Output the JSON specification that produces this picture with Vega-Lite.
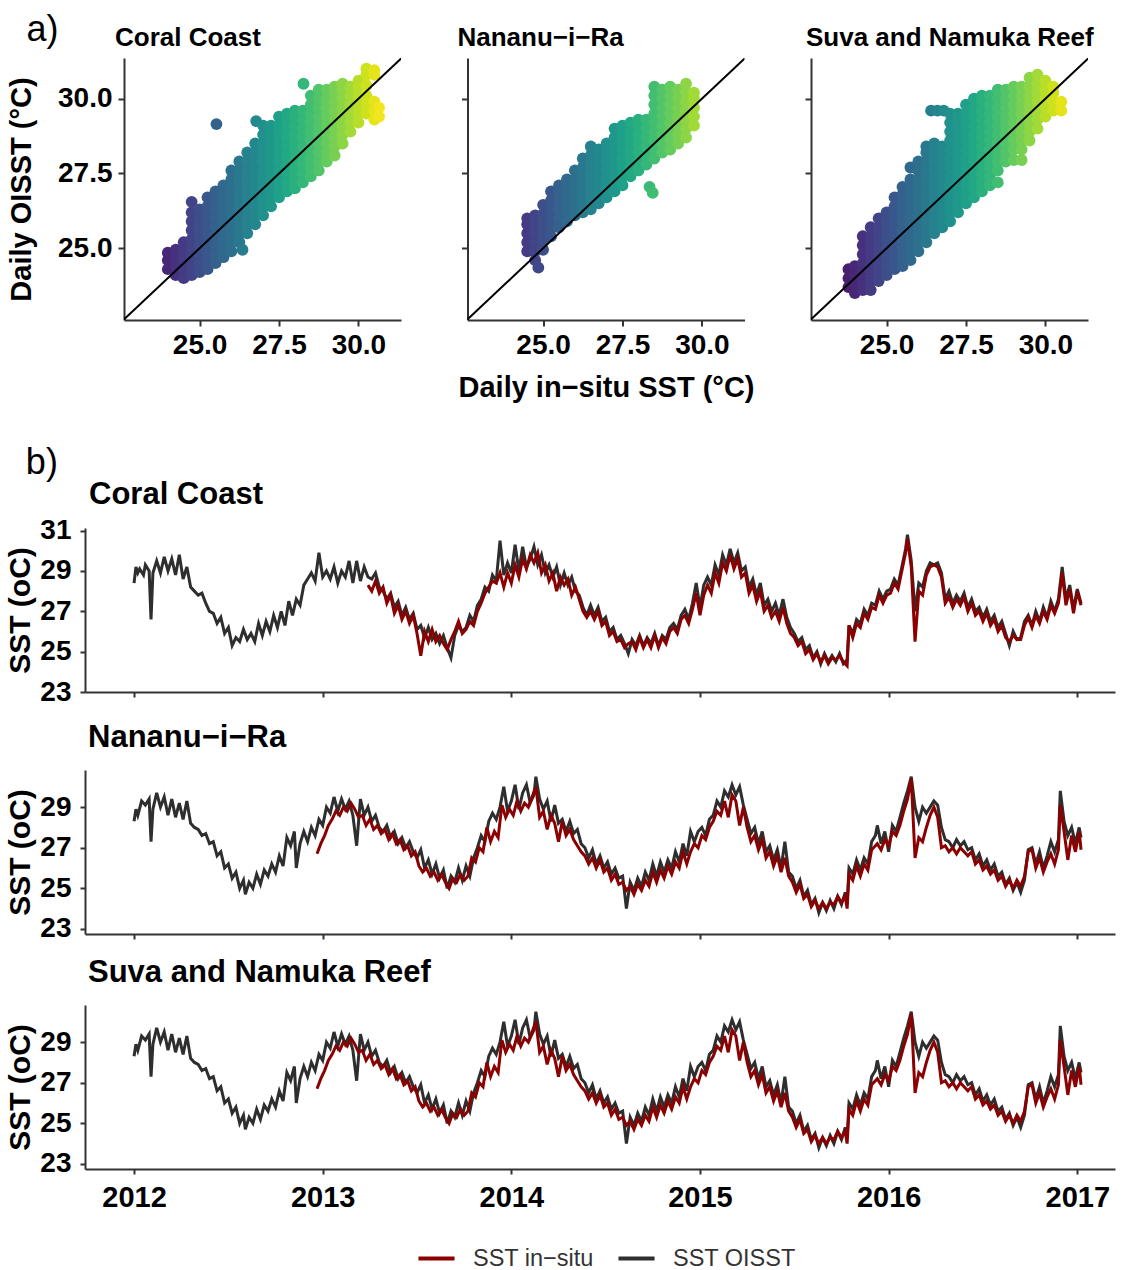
{
"$schema": "https://vega.github.io/schema/vega-lite/v6.json",
"padding": {"left": 5, "top": 12, "right": 10, "bottom": 5},
"background": "white",
"config": {
  "font": "Liberation Sans",
  "view": {"stroke": null},
  "axis": {"grid": false, "domainColor": "#333", "domainWidth": 2, "tickColor": "#333", "tickWidth": 2, "tickSize": 6, "labelFont": "Liberation Sans", "labelFontWeight": "bold", "labelColor": "#000", "titleFont": "Liberation Sans", "titleColor": "#000", "titleFontWeight": "bold"},
  "title": {"font": "Liberation Sans", "fontWeight": "bold", "color": "#000"},
  "legend": {"orient": "none", "legendX": 331, "legendY": 1180, "direction": "horizontal", "title": null, "labelFontSize": 23.5, "labelFont": "Liberation Sans", "labelColor": "#333", "symbolType": "stroke", "symbolStrokeWidth": 4, "symbolSize": 1300, "columnPadding": 16, "labelOffset": 16}
},
"datasets": {
"s1": [
{"x":24.0,"y":24.3},{"x":24.0,"y":24.6},{"x":24.0,"y":24.85},
{"x":24.25,"y":24.1},{"x":24.25,"y":24.4},{"x":24.25,"y":24.7},{"x":24.25,"y":24.95},
{"x":24.5,"y":24.0},{"x":24.5,"y":24.3},{"x":24.5,"y":24.6},{"x":24.5,"y":24.9},{"x":24.5,"y":25.2},
{"x":24.75,"y":24.1},{"x":24.75,"y":24.4},{"x":24.75,"y":24.7},{"x":24.75,"y":25.0},{"x":24.75,"y":25.3},{"x":24.75,"y":25.6},{"x":24.75,"y":25.9},{"x":24.75,"y":26.2},{"x":24.75,"y":26.55},
{"x":25.0,"y":24.2},{"x":25.0,"y":24.5},{"x":25.0,"y":24.8},{"x":25.0,"y":25.1},{"x":25.0,"y":25.4},{"x":25.0,"y":25.7},{"x":25.0,"y":26.0},{"x":25.0,"y":26.3},
{"x":25.25,"y":24.3},{"x":25.25,"y":24.6},{"x":25.25,"y":24.9},{"x":25.25,"y":25.2},{"x":25.25,"y":25.5},{"x":25.25,"y":25.8},{"x":25.25,"y":26.1},{"x":25.25,"y":26.4},{"x":25.25,"y":26.7},
{"x":25.5,"y":24.5},{"x":25.5,"y":24.8},{"x":25.5,"y":25.1},{"x":25.5,"y":25.4},{"x":25.5,"y":25.7},{"x":25.5,"y":26.0},{"x":25.5,"y":26.3},{"x":25.5,"y":26.6},{"x":25.5,"y":26.9},{"x":25.53,"y":29.15},
{"x":25.75,"y":24.7},{"x":25.75,"y":25.0},{"x":25.75,"y":25.3},{"x":25.75,"y":25.6},{"x":25.75,"y":25.9},{"x":25.75,"y":26.2},{"x":25.75,"y":26.5},{"x":25.75,"y":26.8},{"x":25.75,"y":27.1},
{"x":26.0,"y":24.9},{"x":26.0,"y":25.2},{"x":26.0,"y":25.5},{"x":26.0,"y":25.8},{"x":26.0,"y":26.1},{"x":26.0,"y":26.4},{"x":26.0,"y":26.7},{"x":26.0,"y":27.0},{"x":26.0,"y":27.3},{"x":26.0,"y":27.6},
{"x":26.25,"y":25.2},{"x":26.25,"y":25.5},{"x":26.25,"y":25.8},{"x":26.25,"y":26.1},{"x":26.25,"y":26.4},{"x":26.25,"y":26.7},{"x":26.25,"y":27.0},{"x":26.25,"y":27.3},{"x":26.25,"y":27.6},{"x":26.25,"y":27.9},
{"x":26.35,"y":24.95},
{"x":26.5,"y":25.5},{"x":26.5,"y":25.8},{"x":26.5,"y":26.1},{"x":26.5,"y":26.4},{"x":26.5,"y":26.7},{"x":26.5,"y":27.0},{"x":26.5,"y":27.3},{"x":26.5,"y":27.6},{"x":26.5,"y":27.9},{"x":26.5,"y":28.2},
{"x":26.75,"y":25.8},{"x":26.75,"y":26.1},{"x":26.75,"y":26.4},{"x":26.75,"y":26.7},{"x":26.75,"y":27.0},{"x":26.75,"y":27.3},{"x":26.75,"y":27.6},{"x":26.75,"y":27.9},{"x":26.75,"y":28.2},{"x":26.75,"y":28.5},{"x":26.78,"y":29.25},
{"x":27.0,"y":26.1},{"x":27.0,"y":26.4},{"x":27.0,"y":26.7},{"x":27.0,"y":27.0},{"x":27.0,"y":27.3},{"x":27.0,"y":27.6},{"x":27.0,"y":27.9},{"x":27.0,"y":28.2},{"x":27.0,"y":28.5},{"x":27.0,"y":28.8},{"x":27.0,"y":29.1},
{"x":27.25,"y":26.4},{"x":27.25,"y":26.7},{"x":27.25,"y":27.0},{"x":27.25,"y":27.3},{"x":27.25,"y":27.6},{"x":27.25,"y":27.9},{"x":27.25,"y":28.2},{"x":27.25,"y":28.5},{"x":27.25,"y":28.8},{"x":27.25,"y":29.1},
{"x":27.5,"y":26.7},{"x":27.5,"y":27.0},{"x":27.5,"y":27.3},{"x":27.5,"y":27.6},{"x":27.5,"y":27.9},{"x":27.5,"y":28.2},{"x":27.5,"y":28.5},{"x":27.5,"y":28.8},{"x":27.5,"y":29.1},{"x":27.5,"y":29.4},
{"x":27.75,"y":26.9},{"x":27.75,"y":27.2},{"x":27.75,"y":27.5},{"x":27.75,"y":27.8},{"x":27.75,"y":28.1},{"x":27.75,"y":28.4},{"x":27.75,"y":28.7},{"x":27.75,"y":29.0},{"x":27.75,"y":29.3},{"x":27.75,"y":29.5},
{"x":28.0,"y":27.0},{"x":28.0,"y":27.3},{"x":28.0,"y":27.6},{"x":28.0,"y":27.9},{"x":28.0,"y":28.2},{"x":28.0,"y":28.5},{"x":28.0,"y":28.8},{"x":28.0,"y":29.1},{"x":28.0,"y":29.4},{"x":28.0,"y":29.6},
{"x":28.25,"y":27.2},{"x":28.25,"y":27.5},{"x":28.25,"y":27.8},{"x":28.25,"y":28.1},{"x":28.25,"y":28.4},{"x":28.25,"y":28.7},{"x":28.25,"y":29.0},{"x":28.25,"y":29.3},{"x":28.25,"y":29.6},{"x":28.27,"y":30.5},
{"x":28.5,"y":27.4},{"x":28.5,"y":27.7},{"x":28.5,"y":28.0},{"x":28.5,"y":28.3},{"x":28.5,"y":28.6},{"x":28.5,"y":28.9},{"x":28.5,"y":29.2},{"x":28.5,"y":29.5},{"x":28.5,"y":29.8},{"x":28.5,"y":30.1},
{"x":28.75,"y":27.6},{"x":28.75,"y":27.9},{"x":28.75,"y":28.2},{"x":28.75,"y":28.5},{"x":28.75,"y":28.8},{"x":28.75,"y":29.1},{"x":28.75,"y":29.4},{"x":28.75,"y":29.7},{"x":28.75,"y":30.0},{"x":28.75,"y":30.3},
{"x":29.0,"y":27.9},{"x":29.0,"y":28.2},{"x":29.0,"y":28.5},{"x":29.0,"y":28.8},{"x":29.0,"y":29.1},{"x":29.0,"y":29.4},{"x":29.0,"y":29.7},{"x":29.0,"y":30.0},{"x":29.0,"y":30.3},
{"x":29.25,"y":28.1},{"x":29.25,"y":28.4},{"x":29.25,"y":28.7},{"x":29.25,"y":29.0},{"x":29.25,"y":29.3},{"x":29.25,"y":29.6},{"x":29.25,"y":29.9},{"x":29.25,"y":30.2},{"x":29.25,"y":30.4},
{"x":29.5,"y":28.5},{"x":29.5,"y":28.8},{"x":29.5,"y":29.1},{"x":29.5,"y":29.4},{"x":29.5,"y":29.7},{"x":29.5,"y":30.0},{"x":29.5,"y":30.3},{"x":29.5,"y":30.5},
{"x":29.75,"y":28.9},{"x":29.75,"y":29.2},{"x":29.75,"y":29.5},{"x":29.75,"y":29.8},{"x":29.75,"y":30.1},{"x":29.75,"y":30.4},
{"x":30.0,"y":29.2},{"x":30.0,"y":29.5},{"x":30.0,"y":29.8},{"x":30.0,"y":30.1},{"x":30.0,"y":30.4},{"x":30.0,"y":30.6},
{"x":30.25,"y":29.5},{"x":30.25,"y":29.8},{"x":30.25,"y":30.1},{"x":30.25,"y":30.45},{"x":30.25,"y":30.8},{"x":30.25,"y":31.0},
{"x":30.5,"y":29.3},{"x":30.5,"y":29.6},{"x":30.5,"y":29.9},{"x":30.5,"y":30.8},{"x":30.5,"y":30.95},
{"x":30.65,"y":29.4},{"x":30.65,"y":29.7}
],
"s2": [
{"x":24.5,"y":24.9},{"x":24.5,"y":25.2},{"x":24.5,"y":25.5},{"x":24.5,"y":25.8},{"x":24.5,"y":26.0},
{"x":24.75,"y":24.6},{"x":24.75,"y":24.9},{"x":24.75,"y":25.2},{"x":24.75,"y":25.5},{"x":24.75,"y":25.8},{"x":24.75,"y":26.1},
{"x":24.85,"y":24.35},
{"x":25.0,"y":24.95},{"x":25.0,"y":25.25},{"x":25.0,"y":25.55},{"x":25.0,"y":25.85},{"x":25.0,"y":26.15},{"x":25.0,"y":26.45},
{"x":25.25,"y":25.4},{"x":25.25,"y":25.7},{"x":25.25,"y":26.0},{"x":25.25,"y":26.3},{"x":25.25,"y":26.6},{"x":25.25,"y":26.9},
{"x":25.5,"y":25.7},{"x":25.5,"y":26.0},{"x":25.5,"y":26.3},{"x":25.5,"y":26.6},{"x":25.5,"y":26.9},{"x":25.5,"y":27.1},
{"x":25.75,"y":25.9},{"x":25.75,"y":26.2},{"x":25.75,"y":26.5},{"x":25.75,"y":26.8},{"x":25.75,"y":27.1},{"x":25.75,"y":27.3},
{"x":26.0,"y":26.1},{"x":26.0,"y":26.4},{"x":26.0,"y":26.7},{"x":26.0,"y":27.0},{"x":26.0,"y":27.3},{"x":26.0,"y":27.6},
{"x":26.25,"y":26.2},{"x":26.25,"y":26.5},{"x":26.25,"y":26.8},{"x":26.25,"y":27.1},{"x":26.25,"y":27.4},{"x":26.25,"y":27.7},{"x":26.25,"y":28.0},
{"x":26.5,"y":26.3},{"x":26.5,"y":26.6},{"x":26.5,"y":26.9},{"x":26.5,"y":27.2},{"x":26.5,"y":27.5},{"x":26.5,"y":27.8},{"x":26.5,"y":28.1},{"x":26.5,"y":28.4},
{"x":26.75,"y":26.5},{"x":26.75,"y":26.8},{"x":26.75,"y":27.1},{"x":26.75,"y":27.4},{"x":26.75,"y":27.7},{"x":26.75,"y":28.0},{"x":26.75,"y":28.3},
{"x":27.0,"y":26.7},{"x":27.0,"y":27.0},{"x":27.0,"y":27.3},{"x":27.0,"y":27.6},{"x":27.0,"y":27.9},{"x":27.0,"y":28.2},{"x":27.0,"y":28.5},
{"x":27.25,"y":26.9},{"x":27.25,"y":27.2},{"x":27.25,"y":27.5},{"x":27.25,"y":27.8},{"x":27.25,"y":28.1},{"x":27.25,"y":28.4},{"x":27.25,"y":28.7},{"x":27.25,"y":29.0},
{"x":27.5,"y":27.1},{"x":27.5,"y":27.4},{"x":27.5,"y":27.7},{"x":27.5,"y":28.0},{"x":27.5,"y":28.3},{"x":27.5,"y":28.6},{"x":27.5,"y":28.9},{"x":27.5,"y":29.1},
{"x":27.75,"y":27.4},{"x":27.75,"y":27.7},{"x":27.75,"y":28.0},{"x":27.75,"y":28.3},{"x":27.75,"y":28.6},{"x":27.75,"y":28.9},{"x":27.75,"y":29.2},
{"x":28.0,"y":27.6},{"x":28.0,"y":27.9},{"x":28.0,"y":28.2},{"x":28.0,"y":28.5},{"x":28.0,"y":28.8},{"x":28.0,"y":29.1},{"x":28.0,"y":29.3},
{"x":28.25,"y":27.8},{"x":28.25,"y":28.1},{"x":28.25,"y":28.4},{"x":28.25,"y":28.7},{"x":28.25,"y":29.0},{"x":28.25,"y":29.3},
{"x":28.35,"y":27.05},{"x":28.45,"y":26.85},
{"x":28.5,"y":28.0},{"x":28.5,"y":28.3},{"x":28.5,"y":28.6},{"x":28.5,"y":28.9},{"x":28.5,"y":29.2},{"x":28.5,"y":29.5},{"x":28.5,"y":29.8},{"x":28.5,"y":30.1},{"x":28.5,"y":30.4},
{"x":28.75,"y":28.2},{"x":28.75,"y":28.5},{"x":28.75,"y":28.8},{"x":28.75,"y":29.1},{"x":28.75,"y":29.4},{"x":28.75,"y":29.7},{"x":28.75,"y":30.0},{"x":28.75,"y":30.3},
{"x":29.0,"y":28.3},{"x":29.0,"y":28.6},{"x":29.0,"y":28.9},{"x":29.0,"y":29.2},{"x":29.0,"y":29.5},{"x":29.0,"y":29.8},{"x":29.0,"y":30.1},{"x":29.0,"y":30.4},
{"x":29.25,"y":28.5},{"x":29.25,"y":28.8},{"x":29.25,"y":29.1},{"x":29.25,"y":29.4},{"x":29.25,"y":29.7},{"x":29.25,"y":30.0},{"x":29.25,"y":30.3},
{"x":29.5,"y":28.7},{"x":29.5,"y":29.0},{"x":29.5,"y":29.3},{"x":29.5,"y":29.6},{"x":29.5,"y":29.9},{"x":29.5,"y":30.2},{"x":29.5,"y":30.5},
{"x":29.75,"y":29.1},{"x":29.75,"y":29.4},{"x":29.75,"y":29.7},{"x":29.75,"y":30.0},{"x":29.75,"y":30.2}
],
"s3": [
{"x":23.8,"y":23.7},{"x":23.8,"y":24.0},{"x":23.8,"y":24.3},
{"x":24.0,"y":23.5},{"x":24.0,"y":23.8},{"x":24.0,"y":24.1},{"x":24.0,"y":24.4},
{"x":24.25,"y":23.6},{"x":24.25,"y":23.9},{"x":24.25,"y":24.2},{"x":24.25,"y":24.5},{"x":24.25,"y":24.8},{"x":24.25,"y":25.1},{"x":24.25,"y":25.4},
{"x":24.5,"y":23.6},{"x":24.5,"y":23.9},{"x":24.5,"y":24.2},{"x":24.5,"y":24.5},{"x":24.5,"y":24.8},{"x":24.5,"y":25.1},{"x":24.5,"y":25.4},{"x":24.5,"y":25.7},
{"x":24.75,"y":23.9},{"x":24.75,"y":24.2},{"x":24.75,"y":24.5},{"x":24.75,"y":24.8},{"x":24.75,"y":25.1},{"x":24.75,"y":25.4},{"x":24.75,"y":25.7},{"x":24.75,"y":26.0},
{"x":25.0,"y":24.1},{"x":25.0,"y":24.4},{"x":25.0,"y":24.7},{"x":25.0,"y":25.0},{"x":25.0,"y":25.3},{"x":25.0,"y":25.6},{"x":25.0,"y":25.9},{"x":25.0,"y":26.2},
{"x":25.25,"y":24.3},{"x":25.25,"y":24.6},{"x":25.25,"y":24.9},{"x":25.25,"y":25.2},{"x":25.25,"y":25.5},{"x":25.25,"y":25.8},{"x":25.25,"y":26.1},{"x":25.25,"y":26.4},{"x":25.25,"y":26.7},
{"x":25.5,"y":24.4},{"x":25.5,"y":24.7},{"x":25.5,"y":25.0},{"x":25.5,"y":25.3},{"x":25.5,"y":25.6},{"x":25.5,"y":25.9},{"x":25.5,"y":26.2},{"x":25.5,"y":26.5},{"x":25.5,"y":26.8},{"x":25.5,"y":27.05},
{"x":25.75,"y":24.6},{"x":25.75,"y":24.9},{"x":25.75,"y":25.2},{"x":25.75,"y":25.5},{"x":25.75,"y":25.8},{"x":25.75,"y":26.1},{"x":25.75,"y":26.4},{"x":25.75,"y":26.7},{"x":25.75,"y":27.0},{"x":25.75,"y":27.3},{"x":25.75,"y":27.7},
{"x":26.0,"y":24.9},{"x":26.0,"y":25.2},{"x":26.0,"y":25.5},{"x":26.0,"y":25.8},{"x":26.0,"y":26.1},{"x":26.0,"y":26.4},{"x":26.0,"y":26.7},{"x":26.0,"y":27.0},{"x":26.0,"y":27.3},{"x":26.0,"y":27.6},{"x":26.0,"y":27.9},
{"x":26.25,"y":25.2},{"x":26.25,"y":25.5},{"x":26.25,"y":25.8},{"x":26.25,"y":26.1},{"x":26.25,"y":26.4},{"x":26.25,"y":26.7},{"x":26.25,"y":27.0},{"x":26.25,"y":27.3},{"x":26.25,"y":27.6},{"x":26.25,"y":27.9},{"x":26.25,"y":28.2},{"x":26.25,"y":28.4},
{"x":26.4,"y":29.6},
{"x":26.5,"y":25.5},{"x":26.5,"y":25.8},{"x":26.5,"y":26.1},{"x":26.5,"y":26.4},{"x":26.5,"y":26.7},{"x":26.5,"y":27.0},{"x":26.5,"y":27.3},{"x":26.5,"y":27.6},{"x":26.5,"y":27.9},{"x":26.5,"y":28.2},{"x":26.5,"y":28.5},{"x":26.6,"y":29.6},
{"x":26.75,"y":25.7},{"x":26.75,"y":26.0},{"x":26.75,"y":26.3},{"x":26.75,"y":26.6},{"x":26.75,"y":26.9},{"x":26.75,"y":27.2},{"x":26.75,"y":27.5},{"x":26.75,"y":27.8},{"x":26.75,"y":28.1},{"x":26.75,"y":28.4},{"x":26.8,"y":29.6},
{"x":27.0,"y":25.9},{"x":27.0,"y":26.2},{"x":27.0,"y":26.5},{"x":27.0,"y":26.8},{"x":27.0,"y":27.1},{"x":27.0,"y":27.4},{"x":27.0,"y":27.7},{"x":27.0,"y":28.0},{"x":27.0,"y":28.3},{"x":27.0,"y":28.6},{"x":27.0,"y":28.9},{"x":27.0,"y":29.2},{"x":27.0,"y":29.5},
{"x":27.25,"y":26.2},{"x":27.25,"y":26.5},{"x":27.25,"y":26.8},{"x":27.25,"y":27.1},{"x":27.25,"y":27.4},{"x":27.25,"y":27.7},{"x":27.25,"y":28.0},{"x":27.25,"y":28.3},{"x":27.25,"y":28.6},{"x":27.25,"y":28.9},{"x":27.25,"y":29.2},{"x":27.25,"y":29.5},
{"x":27.5,"y":26.5},{"x":27.5,"y":26.8},{"x":27.5,"y":27.1},{"x":27.5,"y":27.4},{"x":27.5,"y":27.7},{"x":27.5,"y":28.0},{"x":27.5,"y":28.3},{"x":27.5,"y":28.6},{"x":27.5,"y":28.9},{"x":27.5,"y":29.2},{"x":27.5,"y":29.5},{"x":27.5,"y":29.8},
{"x":27.75,"y":26.7},{"x":27.75,"y":27.0},{"x":27.75,"y":27.3},{"x":27.75,"y":27.6},{"x":27.75,"y":27.9},{"x":27.75,"y":28.2},{"x":27.75,"y":28.5},{"x":27.75,"y":28.8},{"x":27.75,"y":29.1},{"x":27.75,"y":29.4},{"x":27.75,"y":29.7},{"x":27.75,"y":30.0},
{"x":28.0,"y":26.9},{"x":28.0,"y":27.2},{"x":28.0,"y":27.5},{"x":28.0,"y":27.8},{"x":28.0,"y":28.1},{"x":28.0,"y":28.4},{"x":28.0,"y":28.7},{"x":28.0,"y":29.0},{"x":28.0,"y":29.3},{"x":28.0,"y":29.6},{"x":28.0,"y":29.9},{"x":28.0,"y":30.1},
{"x":28.25,"y":27.1},{"x":28.25,"y":27.4},{"x":28.25,"y":27.7},{"x":28.25,"y":28.0},{"x":28.25,"y":28.3},{"x":28.25,"y":28.6},{"x":28.25,"y":28.9},{"x":28.25,"y":29.2},{"x":28.25,"y":29.5},{"x":28.25,"y":29.8},{"x":28.25,"y":30.1},
{"x":28.5,"y":27.2},{"x":28.5,"y":27.6},{"x":28.5,"y":27.9},{"x":28.5,"y":28.2},{"x":28.5,"y":28.5},{"x":28.5,"y":28.8},{"x":28.5,"y":29.1},{"x":28.5,"y":29.4},{"x":28.5,"y":29.7},{"x":28.5,"y":30.0},{"x":28.5,"y":30.3},
{"x":28.75,"y":27.9},{"x":28.75,"y":28.2},{"x":28.75,"y":28.5},{"x":28.75,"y":28.8},{"x":28.75,"y":29.1},{"x":28.75,"y":29.4},{"x":28.75,"y":29.7},{"x":28.75,"y":30.0},{"x":28.75,"y":30.3},
{"x":29.0,"y":27.95},{"x":29.0,"y":28.3},{"x":29.0,"y":28.6},{"x":29.0,"y":28.9},{"x":29.0,"y":29.2},{"x":29.0,"y":29.5},{"x":29.0,"y":29.8},{"x":29.0,"y":30.1},{"x":29.0,"y":30.4},
{"x":29.25,"y":27.95},{"x":29.25,"y":28.3},{"x":29.25,"y":28.6},{"x":29.25,"y":28.9},{"x":29.25,"y":29.2},{"x":29.25,"y":29.5},{"x":29.25,"y":29.8},{"x":29.25,"y":30.1},{"x":29.25,"y":30.4},
{"x":29.5,"y":28.6},{"x":29.5,"y":28.9},{"x":29.5,"y":29.2},{"x":29.5,"y":29.5},{"x":29.5,"y":29.8},{"x":29.5,"y":30.1},{"x":29.5,"y":30.4},{"x":29.5,"y":30.7},
{"x":29.75,"y":29.0},{"x":29.75,"y":29.3},{"x":29.75,"y":29.6},{"x":29.75,"y":29.9},{"x":29.75,"y":30.2},{"x":29.75,"y":30.5},{"x":29.75,"y":30.8},
{"x":30.0,"y":29.4},{"x":30.0,"y":29.7},{"x":30.0,"y":30.0},{"x":30.0,"y":30.3},{"x":30.0,"y":30.6},
{"x":30.25,"y":29.6},{"x":30.25,"y":29.9},{"x":30.25,"y":30.2},{"x":30.25,"y":30.4},
{"x":30.5,"y":29.6},{"x":30.5,"y":29.9}
],
"o1": [
{"t":2012.00,"v":28.4},{"t":2012.01,"v":29.2},{"t":2012.02,"v":28.9},{"t":2012.03,"v":29.1},{"t":2012.05,"v":28.8},{"t":2012.06,"v":29.3},{"t":2012.08,"v":29.0},{"t":2012.09,"v":26.6},{"t":2012.10,"v":28.9},{"t":2012.12,"v":29.5},{"t":2012.14,"v":28.9},{"t":2012.16,"v":29.7},{"t":2012.18,"v":29.0},{"t":2012.20,"v":29.6},{"t":2012.22,"v":28.8},{"t":2012.24,"v":29.8},{"t":2012.26,"v":28.6},{"t":2012.28,"v":29.2},{"t":2012.30,"v":28.2},{"t":2012.32,"v":28.0},{"t":2012.34,"v":27.8},{"t":2012.36,"v":27.9},{"t":2012.38,"v":27.4},{"t":2012.40,"v":27.0},{"t":2012.42,"v":26.9},{"t":2012.44,"v":26.4},{"t":2012.46,"v":26.7},{"t":2012.48,"v":25.9},{"t":2012.50,"v":26.2},{"t":2012.52,"v":25.3},{"t":2012.54,"v":25.7},{"t":2012.56,"v":25.5},{"t":2012.58,"v":26.1},{"t":2012.60,"v":25.6},{"t":2012.62,"v":25.9},{"t":2012.64,"v":25.5},{"t":2012.66,"v":26.4},{"t":2012.68,"v":25.8},{"t":2012.70,"v":26.5},{"t":2012.72,"v":26.0},{"t":2012.74,"v":26.8},{"t":2012.76,"v":26.2},{"t":2012.78,"v":27.0},{"t":2012.80,"v":26.3},{"t":2012.82,"v":27.5},{"t":2012.84,"v":26.8},{"t":2012.86,"v":27.6},{"t":2012.88,"v":27.3},{"t":2012.90,"v":28.3},{"t":2012.92,"v":28.6},{"t":2012.94,"v":28.9},{"t":2012.96,"v":28.5},{"t":2012.98,"v":29.9},{"t":2013.00,"v":28.7},{"t":2013.02,"v":29.0},{"t":2013.04,"v":28.6},{"t":2013.06,"v":29.2},{"t":2013.08,"v":28.4},{"t":2013.10,"v":29.0},{"t":2013.12,"v":28.7},{"t":2013.14,"v":29.5},{"t":2013.16,"v":28.4},{"t":2013.18,"v":29.5},{"t":2013.20,"v":28.5},{"t":2013.22,"v":29.2},{"t":2013.24,"v":28.7},
{"t":2013.26,"v":28.6},{"t":2013.28,"v":28.9},{"t":2013.30,"v":28.2},{"t":2013.32,"v":28.0},{"t":2013.34,"v":27.6},{"t":2013.36,"v":27.9},{"t":2013.38,"v":27.2},{"t":2013.40,"v":27.5},{"t":2013.42,"v":26.8},{"t":2013.44,"v":27.2},{"t":2013.46,"v":26.6},{"t":2013.48,"v":26.9},{"t":2013.50,"v":26.1},{"t":2013.52,"v":26.3},{"t":2013.54,"v":25.7},{"t":2013.56,"v":26.2},{"t":2013.58,"v":25.6},{"t":2013.60,"v":25.9},{"t":2013.62,"v":25.4},{"t":2013.64,"v":25.8},{"t":2013.66,"v":25.2},{"t":2013.68,"v":24.7},{"t":2013.70,"v":25.8},{"t":2013.72,"v":26.3},{"t":2013.74,"v":26.0},{"t":2013.76,"v":26.2},{"t":2013.78,"v":26.8},{"t":2013.80,"v":26.5},{"t":2013.82,"v":27.3},{"t":2013.84,"v":27.6},{"t":2013.86,"v":28.2},{"t":2013.88,"v":28.0},{"t":2013.90,"v":28.8},{"t":2013.92,"v":28.5},{"t":2013.94,"v":30.5},{"t":2013.96,"v":28.8},{"t":2013.98,"v":29.4},{"t":2014.00,"v":28.9},{"t":2014.02,"v":30.3},{"t":2014.04,"v":29.0},{"t":2014.06,"v":30.2},{"t":2014.08,"v":29.2},{"t":2014.10,"v":29.6},{"t":2014.12,"v":30.2},{"t":2014.14,"v":29.3},{"t":2014.16,"v":29.8},{"t":2014.18,"v":28.9},{"t":2014.20,"v":29.3},{"t":2014.22,"v":28.7},{"t":2014.24,"v":29.2},{"t":2014.26,"v":28.3},{"t":2014.28,"v":28.9},{"t":2014.30,"v":28.3},{"t":2014.32,"v":28.7},{"t":2014.34,"v":28.0},{"t":2014.36,"v":27.8},{"t":2014.38,"v":27.2},{"t":2014.40,"v":26.8},{"t":2014.42,"v":27.3},{"t":2014.44,"v":26.8},{"t":2014.46,"v":27.2},{"t":2014.48,"v":26.5},{"t":2014.50,"v":26.7},{"t":2014.52,"v":26.0},{"t":2014.54,"v":26.2},{"t":2014.56,"v":25.6},{"t":2014.58,"v":25.8},{"t":2014.60,"v":25.4},{"t":2014.62,"v":24.9},{"t":2014.64,"v":25.6},{"t":2014.66,"v":25.3},{"t":2014.68,"v":25.8},{"t":2014.70,"v":25.3},{"t":2014.72,"v":25.7},{"t":2014.74,"v":25.4},{"t":2014.76,"v":25.9},{"t":2014.78,"v":25.3},{"t":2014.80,"v":25.8},{"t":2014.82,"v":25.6},{"t":2014.84,"v":26.2},{"t":2014.86,"v":26.4},{"t":2014.88,"v":26.1},{"t":2014.90,"v":26.8},{"t":2014.92,"v":27.1},{"t":2014.94,"v":26.6},{"t":2014.96,"v":27.4},{"t":2014.98,"v":28.4},{"t":2015.00,"v":27.2},{"t":2015.02,"v":28.3},{"t":2015.04,"v":28.7},{"t":2015.06,"v":28.3},{"t":2015.08,"v":29.3},{"t":2015.10,"v":28.8},{"t":2015.12,"v":29.8},{"t":2015.14,"v":29.3},{"t":2015.16,"v":30.1},{"t":2015.18,"v":29.4},{"t":2015.20,"v":29.9},{"t":2015.22,"v":29.0},{"t":2015.24,"v":29.2},{"t":2015.26,"v":28.2},{"t":2015.28,"v":28.6},{"t":2015.30,"v":27.8},{"t":2015.32,"v":28.4},{"t":2015.34,"v":27.3},{"t":2015.36,"v":27.6},{"t":2015.38,"v":27.0},{"t":2015.40,"v":27.4},{"t":2015.42,"v":26.8},{"t":2015.44,"v":27.6},{"t":2015.46,"v":26.7},{"t":2015.48,"v":26.2},{"t":2015.50,"v":25.9},{"t":2015.52,"v":25.5},{"t":2015.54,"v":25.7},{"t":2015.56,"v":25.1},{"t":2015.58,"v":25.3},{"t":2015.60,"v":24.7},{"t":2015.62,"v":25.0},{"t":2015.64,"v":24.4},{"t":2015.66,"v":24.9},{"t":2015.68,"v":24.5},{"t":2015.70,"v":24.8},{"t":2015.72,"v":24.5},{"t":2015.74,"v":24.9},{"t":2015.76,"v":24.4},{"t":2015.78,"v":24.6},{"t":2015.79,"v":26.3},{"t":2015.81,"v":25.9},{"t":2015.83,"v":26.6},{"t":2015.85,"v":26.4},{"t":2015.87,"v":27.1},{"t":2015.89,"v":26.8},{"t":2015.91,"v":27.4},{"t":2015.93,"v":27.3},{"t":2015.95,"v":28.0},{"t":2015.97,"v":27.6},{"t":2015.99,"v":28.0},{"t":2016.01,"v":28.1},{"t":2016.03,"v":28.6},{"t":2016.05,"v":28.3},{"t":2016.07,"v":29.2},{"t":2016.09,"v":30.1},{"t":2016.10,"v":30.8},{"t":2016.12,"v":29.5},{"t":2016.14,"v":27.0},{"t":2016.16,"v":28.4},{"t":2016.18,"v":28.2},{"t":2016.20,"v":29.0},{"t":2016.22,"v":29.4},{"t":2016.24,"v":29.3},{"t":2016.26,"v":29.4},{"t":2016.28,"v":28.9},{"t":2016.30,"v":27.6},{"t":2016.32,"v":28.0},{"t":2016.34,"v":27.4},{"t":2016.36,"v":27.8},{"t":2016.38,"v":27.5},{"t":2016.40,"v":27.9},{"t":2016.42,"v":27.2},{"t":2016.44,"v":27.6},{"t":2016.46,"v":27.0},{"t":2016.48,"v":27.2},{"t":2016.50,"v":26.7},{"t":2016.52,"v":27.1},{"t":2016.54,"v":26.5},{"t":2016.56,"v":26.8},{"t":2016.58,"v":26.2},{"t":2016.60,"v":26.5},{"t":2016.62,"v":25.9},{"t":2016.64,"v":25.3},{"t":2016.66,"v":26.0},{"t":2016.68,"v":25.6},{"t":2016.70,"v":25.7},{"t":2016.72,"v":26.5},{"t":2016.74,"v":26.8},{"t":2016.76,"v":26.3},{"t":2016.78,"v":27.0},{"t":2016.80,"v":26.5},{"t":2016.82,"v":27.2},{"t":2016.84,"v":26.7},{"t":2016.86,"v":27.5},{"t":2016.88,"v":27.0},{"t":2016.90,"v":27.6},{"t":2016.92,"v":29.2},{"t":2016.94,"v":27.6},{"t":2016.96,"v":28.3},{"t":2016.98,"v":27.1},{"t":2017.00,"v":28.1},{"t":2017.02,"v":27.4}
],
"i1": [
{"t":2013.24,"v":28.3},{"t":2013.26,"v":28.0},{"t":2013.28,"v":28.5},{"t":2013.30,"v":27.9},{"t":2013.32,"v":28.2},{"t":2013.34,"v":27.4},{"t":2013.36,"v":27.8},{"t":2013.38,"v":26.9},{"t":2013.40,"v":27.3},{"t":2013.42,"v":26.6},{"t":2013.44,"v":27.0},{"t":2013.46,"v":26.4},{"t":2013.48,"v":26.8},{"t":2013.50,"v":25.9},{"t":2013.52,"v":24.8},{"t":2013.54,"v":26.0},{"t":2013.56,"v":25.5},{"t":2013.58,"v":26.1},{"t":2013.60,"v":25.5},{"t":2013.62,"v":25.8},{"t":2013.64,"v":25.4},{"t":2013.66,"v":25.1},{"t":2013.68,"v":25.6},{"t":2013.70,"v":26.0},{"t":2013.72,"v":26.5},{"t":2013.74,"v":25.9},{"t":2013.76,"v":26.1},{"t":2013.78,"v":26.5},{"t":2013.80,"v":26.3},{"t":2013.82,"v":27.0},{"t":2013.84,"v":27.4},{"t":2013.86,"v":27.9},{"t":2013.88,"v":28.2},{"t":2013.90,"v":28.5},{"t":2013.92,"v":28.4},{"t":2013.94,"v":28.9},{"t":2013.96,"v":28.2},{"t":2013.98,"v":28.9},{"t":2014.00,"v":28.4},{"t":2014.02,"v":29.3},{"t":2014.04,"v":28.7},{"t":2014.06,"v":29.6},{"t":2014.08,"v":29.1},{"t":2014.10,"v":29.8},{"t":2014.12,"v":29.4},{"t":2014.14,"v":29.9},{"t":2014.16,"v":28.9},{"t":2014.18,"v":29.3},{"t":2014.20,"v":28.5},{"t":2014.22,"v":28.9},{"t":2014.24,"v":28.0},{"t":2014.26,"v":28.7},{"t":2014.28,"v":28.3},{"t":2014.30,"v":28.6},{"t":2014.32,"v":27.8},{"t":2014.34,"v":28.2},{"t":2014.36,"v":27.6},{"t":2014.38,"v":27.0},{"t":2014.40,"v":26.7},{"t":2014.42,"v":27.0},{"t":2014.44,"v":26.6},{"t":2014.46,"v":27.0},{"t":2014.48,"v":26.3},{"t":2014.50,"v":26.5},{"t":2014.52,"v":25.8},{"t":2014.54,"v":26.0},{"t":2014.56,"v":25.5},{"t":2014.58,"v":25.6},{"t":2014.60,"v":25.2},{"t":2014.62,"v":25.4},{"t":2014.64,"v":25.5},{"t":2014.66,"v":25.1},{"t":2014.68,"v":25.7},{"t":2014.70,"v":25.2},{"t":2014.72,"v":25.6},{"t":2014.74,"v":25.2},{"t":2014.76,"v":25.8},{"t":2014.78,"v":25.2},{"t":2014.80,"v":25.7},{"t":2014.82,"v":25.4},{"t":2014.84,"v":26.0},{"t":2014.86,"v":26.2},{"t":2014.88,"v":25.9},{"t":2014.90,"v":26.6},{"t":2014.92,"v":26.8},{"t":2014.94,"v":26.4},{"t":2014.96,"v":27.1},{"t":2014.98,"v":27.9},{"t":2015.00,"v":26.8},{"t":2015.02,"v":27.8},{"t":2015.04,"v":28.3},{"t":2015.06,"v":27.9},{"t":2015.08,"v":28.9},{"t":2015.10,"v":28.4},{"t":2015.12,"v":29.4},{"t":2015.14,"v":29.0},{"t":2015.16,"v":29.8},{"t":2015.18,"v":29.1},{"t":2015.20,"v":29.6},{"t":2015.22,"v":28.7},{"t":2015.24,"v":28.9},{"t":2015.26,"v":27.9},{"t":2015.28,"v":28.3},{"t":2015.30,"v":27.5},{"t":2015.32,"v":28.0},{"t":2015.34,"v":27.0},{"t":2015.36,"v":27.3},{"t":2015.38,"v":26.7},{"t":2015.40,"v":27.0},{"t":2015.42,"v":26.5},{"t":2015.44,"v":27.2},{"t":2015.46,"v":26.4},{"t":2015.48,"v":25.9},{"t":2015.50,"v":25.7},{"t":2015.52,"v":25.3},{"t":2015.54,"v":25.5},{"t":2015.56,"v":24.9},{"t":2015.58,"v":25.1},{"t":2015.60,"v":24.6},{"t":2015.62,"v":24.9},{"t":2015.64,"v":24.5},{"t":2015.66,"v":24.8},{"t":2015.68,"v":24.4},{"t":2015.70,"v":24.7},{"t":2015.72,"v":24.6},{"t":2015.74,"v":24.8},{"t":2015.76,"v":24.5},{"t":2015.78,"v":24.3},{"t":2015.79,"v":26.3},{"t":2015.81,"v":25.7},{"t":2015.83,"v":26.4},{"t":2015.85,"v":26.2},{"t":2015.87,"v":26.9},{"t":2015.89,"v":26.6},{"t":2015.91,"v":27.2},{"t":2015.93,"v":27.1},{"t":2015.95,"v":27.8},{"t":2015.97,"v":27.4},{"t":2015.99,"v":27.8},{"t":2016.01,"v":27.9},{"t":2016.03,"v":28.4},{"t":2016.05,"v":28.1},{"t":2016.07,"v":29.0},{"t":2016.09,"v":29.9},{"t":2016.10,"v":30.6},{"t":2016.12,"v":29.2},{"t":2016.14,"v":25.5},{"t":2016.16,"v":28.0},{"t":2016.18,"v":27.8},{"t":2016.20,"v":28.8},{"t":2016.22,"v":29.2},{"t":2016.24,"v":29.3},{"t":2016.26,"v":29.2},{"t":2016.28,"v":28.7},{"t":2016.30,"v":27.4},{"t":2016.32,"v":27.7},{"t":2016.34,"v":27.2},{"t":2016.36,"v":27.6},{"t":2016.38,"v":27.3},{"t":2016.40,"v":27.7},{"t":2016.42,"v":27.0},{"t":2016.44,"v":27.4},{"t":2016.46,"v":26.8},{"t":2016.48,"v":27.0},{"t":2016.50,"v":26.5},{"t":2016.52,"v":26.9},{"t":2016.54,"v":26.3},{"t":2016.56,"v":26.6},{"t":2016.58,"v":26.0},{"t":2016.60,"v":26.3},{"t":2016.62,"v":25.7},{"t":2016.64,"v":25.5},{"t":2016.66,"v":25.8},{"t":2016.68,"v":25.6},{"t":2016.70,"v":25.6},{"t":2016.72,"v":26.3},{"t":2016.74,"v":26.7},{"t":2016.76,"v":26.2},{"t":2016.78,"v":26.8},{"t":2016.80,"v":26.4},{"t":2016.82,"v":27.0},{"t":2016.84,"v":26.6},{"t":2016.86,"v":27.3},{"t":2016.88,"v":26.9},{"t":2016.90,"v":27.4},{"t":2016.92,"v":28.9},{"t":2016.94,"v":27.3},{"t":2016.96,"v":28.1},{"t":2016.98,"v":26.9},{"t":2017.00,"v":28.0},{"t":2017.02,"v":27.3}
],
"o2": [
{"t":2012.00,"v":28.3},{"t":2012.01,"v":28.9},{"t":2012.02,"v":28.6},{"t":2012.04,"v":29.3},{"t":2012.06,"v":29.1},{"t":2012.08,"v":29.4},{"t":2012.09,"v":27.3},{"t":2012.10,"v":28.9},{"t":2012.12,"v":29.7},{"t":2012.14,"v":29.0},{"t":2012.16,"v":29.5},{"t":2012.18,"v":28.6},{"t":2012.20,"v":29.4},{"t":2012.22,"v":28.5},{"t":2012.24,"v":29.2},{"t":2012.26,"v":28.4},{"t":2012.28,"v":29.3},{"t":2012.30,"v":28.2},{"t":2012.32,"v":28.0},{"t":2012.34,"v":27.9},{"t":2012.36,"v":27.6},{"t":2012.38,"v":27.7},{"t":2012.40,"v":27.2},{"t":2012.42,"v":27.3},{"t":2012.44,"v":26.6},{"t":2012.46,"v":26.8},{"t":2012.48,"v":26.0},{"t":2012.50,"v":26.2},{"t":2012.52,"v":25.5},{"t":2012.54,"v":25.8},{"t":2012.56,"v":25.0},{"t":2012.58,"v":25.4},{"t":2012.59,"v":24.7},{"t":2012.61,"v":25.3},{"t":2012.63,"v":25.0},{"t":2012.65,"v":25.7},{"t":2012.67,"v":25.2},{"t":2012.69,"v":25.9},{"t":2012.71,"v":25.6},{"t":2012.73,"v":26.2},{"t":2012.75,"v":25.8},{"t":2012.77,"v":26.6},{"t":2012.79,"v":26.1},{"t":2012.81,"v":27.5},{"t":2012.83,"v":27.1},{"t":2012.85,"v":27.8},{"t":2012.86,"v":26.0},{"t":2012.88,"v":27.2},{"t":2012.90,"v":27.8},{"t":2012.92,"v":27.3},{"t":2012.94,"v":28.0},{"t":2012.96,"v":27.6},{"t":2012.98,"v":28.4},{"t":2013.00,"v":28.1},{"t":2013.02,"v":29.0},{"t":2013.04,"v":28.7},{"t":2013.06,"v":29.5},{"t":2013.08,"v":28.8},{"t":2013.10,"v":29.4},{"t":2013.12,"v":28.9},{"t":2013.14,"v":29.3},{"t":2013.16,"v":28.6},{"t":2013.18,"v":27.1},{"t":2013.20,"v":29.4},{"t":2013.22,"v":28.6},{"t":2013.24,"v":29.0},{"t":2013.26,"v":28.3},{"t":2013.28,"v":28.6},{"t":2013.30,"v":28.0},{"t":2013.32,"v":27.8},{"t":2013.34,"v":28.1},{"t":2013.36,"v":27.5},{"t":2013.38,"v":27.8},{"t":2013.40,"v":27.2},{"t":2013.42,"v":27.5},{"t":2013.44,"v":27.0},{"t":2013.46,"v":27.3},{"t":2013.48,"v":26.8},{"t":2013.50,"v":26.5},{"t":2013.52,"v":26.9},{"t":2013.54,"v":26.0},{"t":2013.56,"v":26.4},{"t":2013.58,"v":25.7},{"t":2013.60,"v":26.2},{"t":2013.62,"v":25.5},{"t":2013.64,"v":25.9},{"t":2013.66,"v":25.0},{"t":2013.68,"v":25.6},{"t":2013.70,"v":25.3},{"t":2013.72,"v":26.0},{"t":2013.74,"v":25.4},{"t":2013.76,"v":26.1},{"t":2013.78,"v":25.6},{"t":2013.80,"v":26.5},{"t":2013.82,"v":27.0},{"t":2013.84,"v":27.6},{"t":2013.86,"v":27.3},{"t":2013.88,"v":28.3},{"t":2013.90,"v":28.7},{"t":2013.92,"v":28.4},{"t":2013.94,"v":29.0},{"t":2013.96,"v":30.0},{"t":2013.98,"v":28.8},{"t":2014.00,"v":29.3},{"t":2014.02,"v":30.1},{"t":2014.04,"v":28.9},{"t":2014.06,"v":29.7},{"t":2014.08,"v":30.1},{"t":2014.10,"v":29.2},{"t":2014.12,"v":29.6},{"t":2014.13,"v":30.5},{"t":2014.15,"v":29.4},{"t":2014.17,"v":28.9},{"t":2014.19,"v":29.3},{"t":2014.21,"v":28.3},{"t":2014.23,"v":29.1},{"t":2014.25,"v":28.2},{"t":2014.27,"v":28.4},{"t":2014.29,"v":27.8},{"t":2014.31,"v":28.3},{"t":2014.33,"v":27.7},{"t":2014.35,"v":27.9},{"t":2014.37,"v":27.2},{"t":2014.39,"v":27.0},{"t":2014.41,"v":26.5},{"t":2014.43,"v":26.9},{"t":2014.45,"v":26.2},{"t":2014.47,"v":26.6},{"t":2014.49,"v":26.0},{"t":2014.51,"v":26.3},{"t":2014.53,"v":25.7},{"t":2014.55,"v":26.0},{"t":2014.57,"v":25.5},{"t":2014.59,"v":25.6},{"t":2014.61,"v":24.0},{"t":2014.63,"v":25.3},{"t":2014.65,"v":24.9},{"t":2014.67,"v":25.5},{"t":2014.69,"v":25.1},{"t":2014.71,"v":25.8},{"t":2014.73,"v":25.4},{"t":2014.75,"v":26.2},{"t":2014.77,"v":25.6},{"t":2014.79,"v":26.3},{"t":2014.81,"v":25.8},{"t":2014.83,"v":26.4},{"t":2014.85,"v":26.0},{"t":2014.87,"v":26.8},{"t":2014.89,"v":26.3},{"t":2014.91,"v":27.2},{"t":2014.93,"v":26.6},{"t":2014.95,"v":27.8},{"t":2014.97,"v":27.3},{"t":2014.99,"v":27.8},{"t":2015.01,"v":28.0},{"t":2015.03,"v":27.6},{"t":2015.05,"v":28.4},{"t":2015.07,"v":28.6},{"t":2015.09,"v":29.3},{"t":2015.11,"v":29.0},{"t":2015.13,"v":29.8},{"t":2015.15,"v":29.5},{"t":2015.17,"v":30.1},{"t":2015.19,"v":29.6},{"t":2015.21,"v":30.0},{"t":2015.23,"v":29.1},{"t":2015.25,"v":28.4},{"t":2015.27,"v":27.7},{"t":2015.29,"v":28.0},{"t":2015.31,"v":27.2},{"t":2015.33,"v":27.8},{"t":2015.35,"v":26.8},{"t":2015.37,"v":27.1},{"t":2015.39,"v":26.4},{"t":2015.41,"v":26.9},{"t":2015.43,"v":26.0},{"t":2015.45,"v":27.3},{"t":2015.47,"v":25.8},{"t":2015.49,"v":25.6},{"t":2015.51,"v":25.0},{"t":2015.53,"v":25.4},{"t":2015.55,"v":24.6},{"t":2015.57,"v":24.9},{"t":2015.59,"v":24.2},{"t":2015.61,"v":24.5},{"t":2015.63,"v":23.8},{"t":2015.65,"v":24.3},{"t":2015.67,"v":23.9},{"t":2015.69,"v":24.4},{"t":2015.71,"v":24.0},{"t":2015.73,"v":24.6},{"t":2015.75,"v":24.2},{"t":2015.77,"v":24.8},{"t":2015.78,"v":24.3},{"t":2015.79,"v":26.0},{"t":2015.81,"v":25.7},{"t":2015.83,"v":26.4},{"t":2015.85,"v":25.9},{"t":2015.87,"v":26.5},{"t":2015.89,"v":26.2},{"t":2015.91,"v":27.3},{"t":2015.93,"v":27.6},{"t":2015.94,"v":28.1},{"t":2015.96,"v":27.2},{"t":2015.98,"v":27.8},{"t":2016.00,"v":26.8},{"t":2016.02,"v":28.1},{"t":2016.04,"v":27.8},{"t":2016.06,"v":28.5},{"t":2016.08,"v":29.2},{"t":2016.10,"v":29.8},{"t":2016.12,"v":30.5},{"t":2016.14,"v":29.0},{"t":2016.16,"v":28.3},{"t":2016.18,"v":29.0},{"t":2016.20,"v":28.7},{"t":2016.22,"v":29.0},{"t":2016.24,"v":29.3},{"t":2016.26,"v":29.1},{"t":2016.28,"v":28.0},{"t":2016.30,"v":27.4},{"t":2016.32,"v":27.3},{"t":2016.34,"v":27.0},{"t":2016.36,"v":27.4},{"t":2016.38,"v":27.1},{"t":2016.40,"v":27.3},{"t":2016.42,"v":26.9},{"t":2016.44,"v":27.0},{"t":2016.46,"v":26.4},{"t":2016.48,"v":26.7},{"t":2016.50,"v":26.1},{"t":2016.52,"v":26.4},{"t":2016.54,"v":25.9},{"t":2016.56,"v":26.2},{"t":2016.58,"v":25.6},{"t":2016.60,"v":25.8},{"t":2016.62,"v":25.2},{"t":2016.64,"v":25.5},{"t":2016.66,"v":24.9},{"t":2016.68,"v":25.3},{"t":2016.70,"v":24.8},{"t":2016.72,"v":25.4},{"t":2016.74,"v":26.9},{"t":2016.76,"v":27.0},{"t":2016.78,"v":26.2},{"t":2016.80,"v":26.8},{"t":2016.82,"v":26.0},{"t":2016.84,"v":26.6},{"t":2016.86,"v":27.3},{"t":2016.88,"v":26.8},{"t":2016.90,"v":27.4},{"t":2016.91,"v":29.8},{"t":2016.93,"v":28.3},{"t":2016.95,"v":27.6},{"t":2016.97,"v":28.0},{"t":2016.99,"v":27.2},{"t":2017.01,"v":28.0},{"t":2017.02,"v":27.5}
],
"i2": [
{"t":2012.97,"v":26.7},{"t":2012.99,"v":27.2},{"t":2013.01,"v":27.6},{"t":2013.03,"v":28.1},{"t":2013.05,"v":28.4},{"t":2013.07,"v":28.8},{"t":2013.09,"v":28.6},{"t":2013.11,"v":29.0},{"t":2013.13,"v":28.8},{"t":2013.15,"v":29.2},{"t":2013.17,"v":28.9},{"t":2013.19,"v":28.5},{"t":2013.21,"v":28.6},{"t":2013.23,"v":28.1},{"t":2013.25,"v":28.4},{"t":2013.27,"v":27.9},{"t":2013.29,"v":28.1},{"t":2013.31,"v":27.7},{"t":2013.33,"v":27.9},{"t":2013.35,"v":27.4},{"t":2013.37,"v":27.7},{"t":2013.39,"v":27.2},{"t":2013.41,"v":27.4},{"t":2013.43,"v":26.9},{"t":2013.45,"v":27.1},{"t":2013.47,"v":26.6},{"t":2013.49,"v":26.8},{"t":2013.51,"v":26.1},{"t":2013.53,"v":25.8},{"t":2013.55,"v":26.0},{"t":2013.57,"v":25.6},{"t":2013.59,"v":25.8},{"t":2013.61,"v":25.4},{"t":2013.63,"v":25.7},{"t":2013.65,"v":25.3},{"t":2013.67,"v":25.0},{"t":2013.69,"v":25.5},{"t":2013.71,"v":25.3},{"t":2013.73,"v":25.7},{"t":2013.75,"v":25.4},{"t":2013.77,"v":25.6},{"t":2013.79,"v":26.5},{"t":2013.81,"v":26.3},{"t":2013.83,"v":27.0},{"t":2013.85,"v":26.8},{"t":2013.87,"v":28.0},{"t":2013.89,"v":27.3},{"t":2013.91,"v":27.8},{"t":2013.93,"v":27.5},{"t":2013.95,"v":29.1},{"t":2013.97,"v":28.5},{"t":2013.99,"v":28.9},{"t":2014.01,"v":28.6},{"t":2014.03,"v":29.3},{"t":2014.05,"v":28.8},{"t":2014.07,"v":29.2},{"t":2014.09,"v":29.0},{"t":2014.11,"v":29.5},{"t":2014.13,"v":30.0},{"t":2014.15,"v":28.5},{"t":2014.17,"v":28.8},{"t":2014.19,"v":27.9},{"t":2014.21,"v":28.6},{"t":2014.23,"v":28.2},{"t":2014.25,"v":27.3},{"t":2014.27,"v":28.3},{"t":2014.29,"v":27.6},{"t":2014.31,"v":27.9},{"t":2014.33,"v":27.4},{"t":2014.35,"v":27.1},{"t":2014.37,"v":26.8},{"t":2014.39,"v":26.6},{"t":2014.41,"v":26.2},{"t":2014.43,"v":26.5},{"t":2014.45,"v":26.0},{"t":2014.47,"v":26.4},{"t":2014.49,"v":25.8},{"t":2014.51,"v":26.0},{"t":2014.53,"v":25.4},{"t":2014.55,"v":25.7},{"t":2014.57,"v":25.2},{"t":2014.59,"v":25.3},{"t":2014.61,"v":24.9},{"t":2014.63,"v":25.1},{"t":2014.65,"v":24.7},{"t":2014.67,"v":25.2},{"t":2014.69,"v":24.9},{"t":2014.71,"v":25.4},{"t":2014.73,"v":25.1},{"t":2014.75,"v":25.8},{"t":2014.77,"v":25.3},{"t":2014.79,"v":25.9},{"t":2014.81,"v":25.5},{"t":2014.83,"v":26.1},{"t":2014.85,"v":25.7},{"t":2014.87,"v":26.3},{"t":2014.89,"v":26.0},{"t":2014.91,"v":26.8},{"t":2014.93,"v":26.2},{"t":2014.95,"v":26.8},{"t":2014.97,"v":27.2},{"t":2014.99,"v":27.0},{"t":2015.01,"v":27.6},{"t":2015.03,"v":27.4},{"t":2015.05,"v":28.0},{"t":2015.07,"v":28.3},{"t":2015.09,"v":28.8},{"t":2015.11,"v":28.6},{"t":2015.13,"v":29.3},{"t":2015.15,"v":28.5},{"t":2015.17,"v":29.6},{"t":2015.19,"v":29.3},{"t":2015.21,"v":28.1},{"t":2015.23,"v":29.0},{"t":2015.25,"v":28.0},{"t":2015.27,"v":27.3},{"t":2015.29,"v":27.6},{"t":2015.31,"v":26.9},{"t":2015.33,"v":27.4},{"t":2015.35,"v":26.5},{"t":2015.37,"v":26.8},{"t":2015.39,"v":26.1},{"t":2015.41,"v":26.6},{"t":2015.43,"v":25.8},{"t":2015.45,"v":26.5},{"t":2015.47,"v":25.6},{"t":2015.49,"v":25.3},{"t":2015.51,"v":24.8},{"t":2015.53,"v":25.2},{"t":2015.55,"v":24.5},{"t":2015.57,"v":24.7},{"t":2015.59,"v":24.1},{"t":2015.61,"v":24.4},{"t":2015.63,"v":24.0},{"t":2015.65,"v":24.3},{"t":2015.67,"v":24.0},{"t":2015.69,"v":24.3},{"t":2015.71,"v":24.2},{"t":2015.73,"v":24.6},{"t":2015.75,"v":24.3},{"t":2015.77,"v":24.6},{"t":2015.78,"v":24.0},{"t":2015.79,"v":25.7},{"t":2015.81,"v":25.4},{"t":2015.83,"v":26.1},{"t":2015.85,"v":25.6},{"t":2015.87,"v":26.2},{"t":2015.89,"v":25.9},{"t":2015.91,"v":26.9},{"t":2015.93,"v":27.1},{"t":2015.94,"v":27.2},{"t":2015.96,"v":26.9},{"t":2015.98,"v":27.4},{"t":2016.00,"v":27.1},{"t":2016.02,"v":27.8},{"t":2016.04,"v":27.6},{"t":2016.06,"v":28.1},{"t":2016.08,"v":28.8},{"t":2016.10,"v":29.4},{"t":2016.12,"v":30.4},{"t":2016.14,"v":26.5},{"t":2016.16,"v":27.5},{"t":2016.18,"v":27.3},{"t":2016.20,"v":28.0},{"t":2016.22,"v":28.6},{"t":2016.24,"v":29.0},{"t":2016.26,"v":28.5},{"t":2016.28,"v":27.0},{"t":2016.30,"v":27.1},{"t":2016.32,"v":26.8},{"t":2016.34,"v":27.0},{"t":2016.36,"v":26.7},{"t":2016.38,"v":27.0},{"t":2016.40,"v":26.8},{"t":2016.42,"v":26.6},{"t":2016.44,"v":26.8},{"t":2016.46,"v":26.2},{"t":2016.48,"v":26.4},{"t":2016.50,"v":25.9},{"t":2016.52,"v":26.1},{"t":2016.54,"v":25.7},{"t":2016.56,"v":25.9},{"t":2016.58,"v":25.4},{"t":2016.60,"v":25.6},{"t":2016.62,"v":25.1},{"t":2016.64,"v":25.4},{"t":2016.66,"v":25.0},{"t":2016.68,"v":25.4},{"t":2016.70,"v":25.1},{"t":2016.72,"v":25.6},{"t":2016.74,"v":26.8},{"t":2016.76,"v":26.9},{"t":2016.78,"v":26.0},{"t":2016.80,"v":26.5},{"t":2016.82,"v":25.8},{"t":2016.84,"v":26.3},{"t":2016.86,"v":26.7},{"t":2016.88,"v":26.2},{"t":2016.90,"v":26.9},{"t":2016.91,"v":29.1},{"t":2016.93,"v":27.8},{"t":2016.95,"v":26.4},{"t":2016.97,"v":27.6},{"t":2016.99,"v":26.8},{"t":2017.01,"v":27.8},{"t":2017.02,"v":26.9}
],
"diag": [{"x":22,"y":22},{"x":32,"y":32}]
},
"spacing": 42,
"vconcat": [
{
  "title": {"text": "a)", "anchor": "start", "fontSize": 36, "fontWeight": "normal", "offset": -24, "dx": 19},
  "bounds": "flush",
  "spacing": 38,
  "hconcat": [
    {"width": 1, "height": 262, "data": {"values": []}, "mark": {"type": "point", "opacity": 0}},
    {
      "bounds": "flush",
      "spacing": 66.5,
      "hconcat": [
        {
          "width": 277, "height": 262,
          "title": {"text": "Coral Coast", "anchor": "start", "frame": "group", "fontSize": 26, "dx": -9, "offset": 7},
          "layer": [
            {"data": {"name": "s1"}, "mark": {"type": "circle", "size": 140, "opacity": 1},
             "encoding": {
               "x": {"field": "x", "type": "quantitative", "scale": {"domain": [22.62, 31.34], "nice": false, "zero": false}, "axis": {"values": [25, 27.5, 30], "format": ".1f", "title": null, "labelFontSize": 28, "labelPadding": 5}},
               "y": {"field": "y", "type": "quantitative", "scale": {"domain": [22.6, 31.36], "nice": false, "zero": false}, "axis": {"values": [25, 27.5, 30], "format": ".1f", "title": "Daily OISST (°C)", "titleFontSize": 29, "titlePadding": 21, "labelFontSize": 28, "labelPadding": 6}},
               "fill": {"field": "x", "type": "quantitative", "scale": {"scheme": "viridis", "domain": [23.2, 30.8]}, "legend": null}
             }},
            {"data": {"name": "diag"}, "mark": {"type": "line", "color": "#000", "strokeWidth": 2, "clip": true},
             "encoding": {"x": {"field": "x", "type": "quantitative"}, "y": {"field": "y", "type": "quantitative"}}}
          ]
        },
        {
          "width": 277, "height": 262,
          "title": {"text": "Nananu−i−Ra", "anchor": "start", "frame": "group", "fontSize": 26, "dx": -10, "offset": 7},
          "layer": [
            {"data": {"name": "s2"}, "mark": {"type": "circle", "size": 140, "opacity": 1},
             "encoding": {
               "x": {"field": "x", "type": "quantitative", "scale": {"domain": [22.62, 31.34], "nice": false, "zero": false}, "axis": {"values": [25, 27.5, 30], "format": ".1f", "title": "Daily in−situ SST (°C)", "titleFontSize": 29, "titlePadding": 14, "labelFontSize": 28, "labelPadding": 5}},
               "y": {"field": "y", "type": "quantitative", "scale": {"domain": [22.6, 31.36], "nice": false, "zero": false}, "axis": {"values": [25, 27.5, 30], "labels": false, "title": null}},
               "fill": {"field": "x", "type": "quantitative", "scale": {"scheme": "viridis", "domain": [23.2, 30.8]}, "legend": null}
             }},
            {"data": {"name": "diag"}, "mark": {"type": "line", "color": "#000", "strokeWidth": 2, "clip": true},
             "encoding": {"x": {"field": "x", "type": "quantitative"}, "y": {"field": "y", "type": "quantitative"}}}
          ]
        },
        {
          "width": 277, "height": 262,
          "title": {"text": "Suva and Namuka Reef", "anchor": "start", "frame": "group", "fontSize": 26, "dx": -5, "offset": 7},
          "layer": [
            {"data": {"name": "s3"}, "mark": {"type": "circle", "size": 140, "opacity": 1},
             "encoding": {
               "x": {"field": "x", "type": "quantitative", "scale": {"domain": [22.62, 31.34], "nice": false, "zero": false}, "axis": {"values": [25, 27.5, 30], "format": ".1f", "title": null, "labelFontSize": 28, "labelPadding": 5}},
               "y": {"field": "y", "type": "quantitative", "scale": {"domain": [22.6, 31.36], "nice": false, "zero": false}, "axis": {"values": [25, 27.5, 30], "labels": false, "title": null}},
               "fill": {"field": "x", "type": "quantitative", "scale": {"scheme": "viridis", "domain": [23.2, 30.8]}, "legend": null}
             }},
            {"data": {"name": "diag"}, "mark": {"type": "line", "color": "#000", "strokeWidth": 2, "clip": true},
             "encoding": {"x": {"field": "x", "type": "quantitative"}, "y": {"field": "y", "type": "quantitative"}}}
          ]
        }
      ]
    }
  ]
},
{
  "title": {"text": "b)", "anchor": "start", "fontSize": 36, "fontWeight": "normal", "dx": 20, "offset": -3},
  "spacing": 16,
  "vconcat": [
    {
      "width": 1030, "height": 164,
      "title": {"text": "Coral Coast", "anchor": "start", "frame": "group", "fontSize": 31, "dx": 4, "offset": 6},
      "layer": [
        {"data": {"name": "o1"}, "mark": {"type": "line", "strokeWidth": 3},
         "encoding": {
           "x": {"field": "t", "type": "quantitative", "scale": {"domain": [2011.74, 2017.2], "nice": false, "zero": false}, "axis": {"values": [2012, 2013, 2014, 2015, 2016, 2017], "format": "d", "title": null, "labels": false, "tickSize": 5}},
           "y": {"field": "v", "type": "quantitative", "scale": {"domain": [23, 31.13], "nice": false, "zero": false}, "axis": {"values": [23, 25, 27, 29, 31], "title": "SST (oC)", "titleFontSize": 30, "titlePadding": 4, "labelFontSize": 28, "labelPadding": 9, "tickSize": 5}},
           "color": {"datum": "SST OISST", "type": "nominal", "scale": {"domain": ["SST in−situ", "SST OISST"], "range": ["#8b0000", "#2e2e2e"]}}
         }},
        {"data": {"name": "i1"}, "mark": {"type": "line", "strokeWidth": 3},
         "encoding": {
           "x": {"field": "t", "type": "quantitative"},
           "y": {"field": "v", "type": "quantitative"},
           "color": {"datum": "SST in−situ", "type": "nominal", "scale": {"domain": ["SST in−situ", "SST OISST"], "range": ["#8b0000", "#2e2e2e"]}}
         }}
      ]
    },
    {
      "spacing": 14,
      "vconcat": [
        {
          "width": 1030, "height": 164,
          "title": {"text": "Nananu−i−Ra", "anchor": "start", "frame": "group", "fontSize": 31, "dx": 3, "offset": 16},
          "layer": [
            {"data": {"name": "o2"}, "mark": {"type": "line", "strokeWidth": 3},
             "encoding": {
               "x": {"field": "t", "type": "quantitative", "scale": {"domain": [2011.74, 2017.2], "nice": false, "zero": false}, "axis": {"values": [2012, 2013, 2014, 2015, 2016, 2017], "format": "d", "title": null, "labels": false, "tickSize": 5}},
               "y": {"field": "v", "type": "quantitative", "scale": {"domain": [22.75, 30.83], "nice": false, "zero": false}, "axis": {"values": [23, 25, 27, 29], "title": "SST (oC)", "titleFontSize": 30, "titlePadding": 4, "labelFontSize": 28, "labelPadding": 9, "tickSize": 5}},
               "color": {"datum": "SST OISST", "type": "nominal", "scale": {"domain": ["SST in−situ", "SST OISST"], "range": ["#8b0000", "#2e2e2e"]}}
             }},
            {"data": {"name": "i2"}, "mark": {"type": "line", "strokeWidth": 3},
             "encoding": {
               "x": {"field": "t", "type": "quantitative"},
               "y": {"field": "v", "type": "quantitative"},
               "color": {"datum": "SST in−situ", "type": "nominal", "scale": {"domain": ["SST in−situ", "SST OISST"], "range": ["#8b0000", "#2e2e2e"]}}
             }}
          ]
        },
        {
          "width": 1030, "height": 164,
          "title": {"text": "Suva and Namuka Reef", "anchor": "start", "frame": "group", "fontSize": 31, "dx": 3, "offset": 16},
          "layer": [
            {"data": {"name": "o2"}, "mark": {"type": "line", "strokeWidth": 3},
             "encoding": {
               "x": {"field": "t", "type": "quantitative", "scale": {"domain": [2011.74, 2017.2], "nice": false, "zero": false}, "axis": {"values": [2012, 2013, 2014, 2015, 2016, 2017], "format": "d", "title": null, "labelFontSize": 29, "labelPadding": 9, "tickSize": 5}},
               "y": {"field": "v", "type": "quantitative", "scale": {"domain": [22.75, 30.83], "nice": false, "zero": false}, "axis": {"values": [23, 25, 27, 29], "title": "SST (oC)", "titleFontSize": 30, "titlePadding": 4, "labelFontSize": 28, "labelPadding": 9, "tickSize": 5}},
               "color": {"datum": "SST OISST", "type": "nominal", "scale": {"domain": ["SST in−situ", "SST OISST"], "range": ["#8b0000", "#2e2e2e"]}}
             }},
            {"data": {"name": "i2"}, "mark": {"type": "line", "strokeWidth": 3},
             "encoding": {
               "x": {"field": "t", "type": "quantitative"},
               "y": {"field": "v", "type": "quantitative"},
               "color": {"datum": "SST in−situ", "type": "nominal", "scale": {"domain": ["SST in−situ", "SST OISST"], "range": ["#8b0000", "#2e2e2e"]}}
             }}
          ]
        }
      ]
    }
  ]
}
]
}
